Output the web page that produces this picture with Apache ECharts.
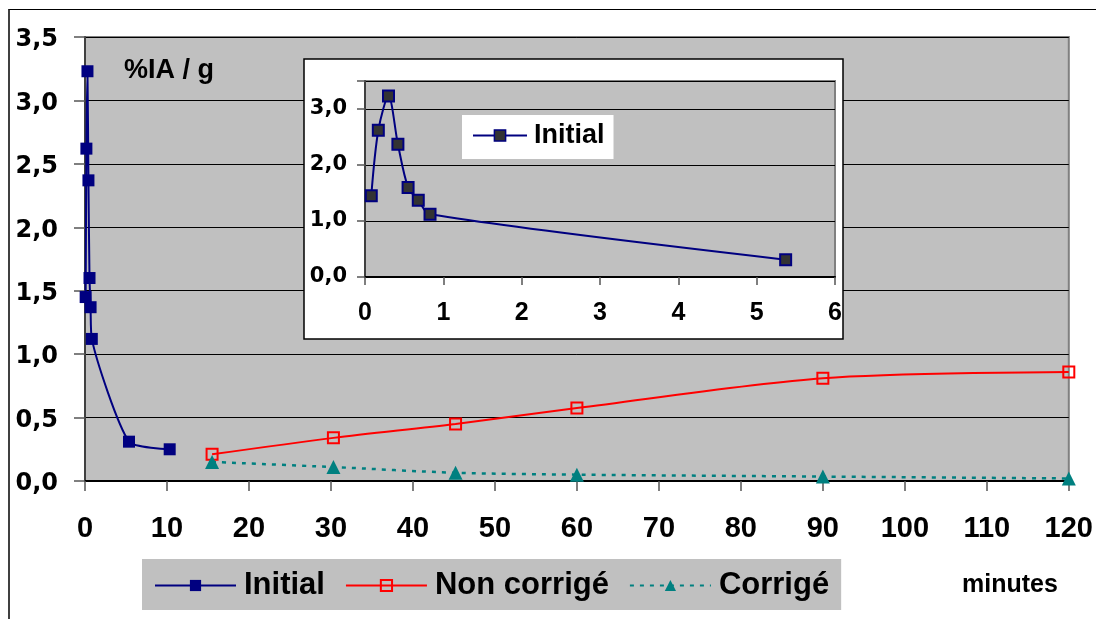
<!DOCTYPE html>
<html>
<head>
<meta charset="utf-8">
<script src="https://cdn.jsdelivr.net/npm/echarts@6/dist/echarts.min.js"></script>
<style>
  html, body { margin: 0; padding: 0; background: #fff; }
  #wrap { position: relative; width: 1096px; height: 619px; }
  #chart { position: absolute; left: 0; top: 0; width: 1096px; height: 619px; }
  #frame { position: absolute; left: 8px; top: 9px; right: 0; bottom: 0;
           border-left: 2px solid #404040; border-top: 1px solid #000; pointer-events: none; }
</style>
</head>
<body>
<div id="wrap"><div id="chart"></div><div id="frame"></div></div>
<script>
// Uptake (%IA / g) over time in minutes
const initialTime  = [0.08, 0.17, 0.30, 0.42, 0.55, 0.68, 0.83, 5.37, 10.33];
const initialValue = [1.45, 2.62, 3.23, 2.37, 1.60, 1.37, 1.12, 0.31, 0.25];
const sampleTime       = [15.5, 30.3, 45.2, 60, 90, 120];
const uncorrectedValue = [0.21, 0.34, 0.45, 0.575, 0.81, 0.86];
const correctedValue   = [0.15, 0.11, 0.065, 0.05, 0.035, 0.02];
// the zoomed panel shows the first minutes only
const insetPoints = 8;

const seriesNames = ['Initial', 'Non corrigé', 'Corrigé'];
const yTitle = '%IA / g';
const xTitle = 'minutes';

const pairs = (xs, ys) => xs.map((x, i) => [x, ys[i]]);
const comma = v => v.toFixed(1).replace('.', ',');

const NAVY = '#000080', RED = '#ff0000', TEAL = '#008080', GREY = '#c0c0c0';
const ARIAL = '"Liberation Sans", Arial, sans-serif';
const WIDE = '"DejaVu Sans", sans-serif';

const chart = echarts.init(document.getElementById('chart'), null, { renderer: 'canvas' });

chart.setOption({
  animation: false,
  backgroundColor: '#fff',
  title: [
    { text: yTitle, left: 124, top: 57, padding: 0,
      textStyle: { fontFamily: ARIAL, fontSize: 27, fontWeight: 'bold', color: '#000' } },
    { text: xTitle, left: 962, top: 573, padding: 0,
      textStyle: { fontFamily: ARIAL, fontSize: 25, fontWeight: 'bold', color: '#000' } }
  ],
  legend: [
    {
      data: seriesNames, left: 142, top: 559, orient: 'horizontal',
      padding: [11, 12, 9, 12], itemGap: 20, itemWidth: 81, itemHeight: 14,
      backgroundColor: GREY, selectedMode: false,
      textStyle: { fontFamily: ARIAL, fontSize: 31, fontWeight: 'bold', color: '#000', padding: [0, 0, 0, 3] }
    },
    {
      data: [{ name: seriesNames[0], itemStyle: { color: '#333333', borderColor: NAVY, borderWidth: 1.5 } }],
      left: 462, top: 115, padding: [7, 9, 10, 10], itemWidth: 54, itemHeight: 14,
      backgroundColor: '#fff', selectedMode: false, z: 10,
      textStyle: { fontFamily: ARIAL, fontSize: 27, fontWeight: 'bold', color: '#000', padding: [0, 0, 0, 2] }
    }
  ],
  graphic: [
    { type: 'rect', z: 5, shape: { x: 304, y: 59, width: 539, height: 280 },
      style: { fill: '#fff', stroke: '#000', lineWidth: 1.5 } }
  ],
  grid: [
    { left: 85, right: 25, top: 37, bottom: 138, show: true, backgroundColor: GREY,
      borderColor: '#808080', borderWidth: 2 },
    { left: 365, right: 261, top: 81, bottom: 342, show: true, backgroundColor: GREY,
      borderColor: '#808080', borderWidth: 2, z: 6 }
  ],
  xAxis: [
    { type: 'value', gridIndex: 0, min: 0, max: 120, interval: 10,
      axisLine: { lineStyle: { color: '#000', width: 2 } },
      axisTick: { show: true, inside: false, length: 10, lineStyle: { color: '#555', width: 1.5 } },
      splitLine: { show: false },
      axisLabel: { margin: 33, fontFamily: ARIAL, fontSize: 29, fontWeight: 'bold', color: '#000' } },
    { type: 'value', gridIndex: 1, min: 0, max: 6, interval: 1, z: 7,
      axisLine: { lineStyle: { color: '#000', width: 2 } },
      axisTick: { show: true, length: 8, lineStyle: { color: '#555', width: 1.5 } },
      splitLine: { show: false },
      axisLabel: { margin: 24, fontFamily: ARIAL, fontSize: 25, fontWeight: 'bold', color: '#000' } }
  ],
  yAxis: [
    { type: 'value', gridIndex: 0, min: 0, max: 3.5, interval: 0.5,
      axisLine: { show: true, lineStyle: { color: '#404040', width: 2 } },
      axisTick: { show: true, length: 11, lineStyle: { color: '#555', width: 1.5 } },
      splitLine: { show: true, lineStyle: { color: '#000', width: 1 } },
      axisLabel: { margin: 27, verticalAlign: 'top', padding: [-9, 0, 0, 0], fontFamily: WIDE, fontSize: 24,
                   fontWeight: 'bold', color: '#000', formatter: comma } },
    { type: 'value', gridIndex: 1, min: 0, max: 3.5, interval: 1, z: 7,
      axisLine: { show: true, lineStyle: { color: '#404040', width: 2 } },
      axisTick: { show: true, length: 8, lineStyle: { color: '#555', width: 1.5 } },
      splitLine: { show: true, lineStyle: { color: '#000', width: 1 } },
      axisLabel: { margin: 18, fontFamily: WIDE, fontSize: 21, fontWeight: 'bold',
                   color: '#000', formatter: v => (v % 1 === 0 ? comma(v) : '') } }
  ],
  series: [
    { name: seriesNames[0], type: 'line', xAxisIndex: 0, yAxisIndex: 0,
      data: pairs(initialTime, initialValue), smooth: 0.2,
      symbol: 'rect', symbolSize: 12,
      lineStyle: { color: NAVY, width: 2 }, itemStyle: { color: NAVY } },
    { name: seriesNames[1], type: 'line', xAxisIndex: 0, yAxisIndex: 0,
      data: pairs(sampleTime, uncorrectedValue), smooth: 0.3,
      symbol: 'rect', symbolSize: 11,
      lineStyle: { color: RED, width: 2 },
      itemStyle: { color: 'rgba(0,0,0,0)', borderColor: RED, borderWidth: 2 } },
    { name: seriesNames[2], type: 'line', xAxisIndex: 0, yAxisIndex: 0,
      data: pairs(sampleTime, correctedValue), smooth: 0.3,
      symbol: 'triangle', symbolSize: 14,
      lineStyle: { color: TEAL, width: 2.5, type: [4, 6] }, itemStyle: { color: TEAL } },
    { name: seriesNames[0], type: 'line', xAxisIndex: 1, yAxisIndex: 1, z: 8,
      data: pairs(initialTime.slice(0, insetPoints), initialValue.slice(0, insetPoints)), smooth: 0.3,
      symbol: 'rect', symbolSize: 11,
      lineStyle: { color: NAVY, width: 2 },
      itemStyle: { color: '#333333', borderColor: NAVY, borderWidth: 2 } }
  ]
});
</script>
</body>
</html>
